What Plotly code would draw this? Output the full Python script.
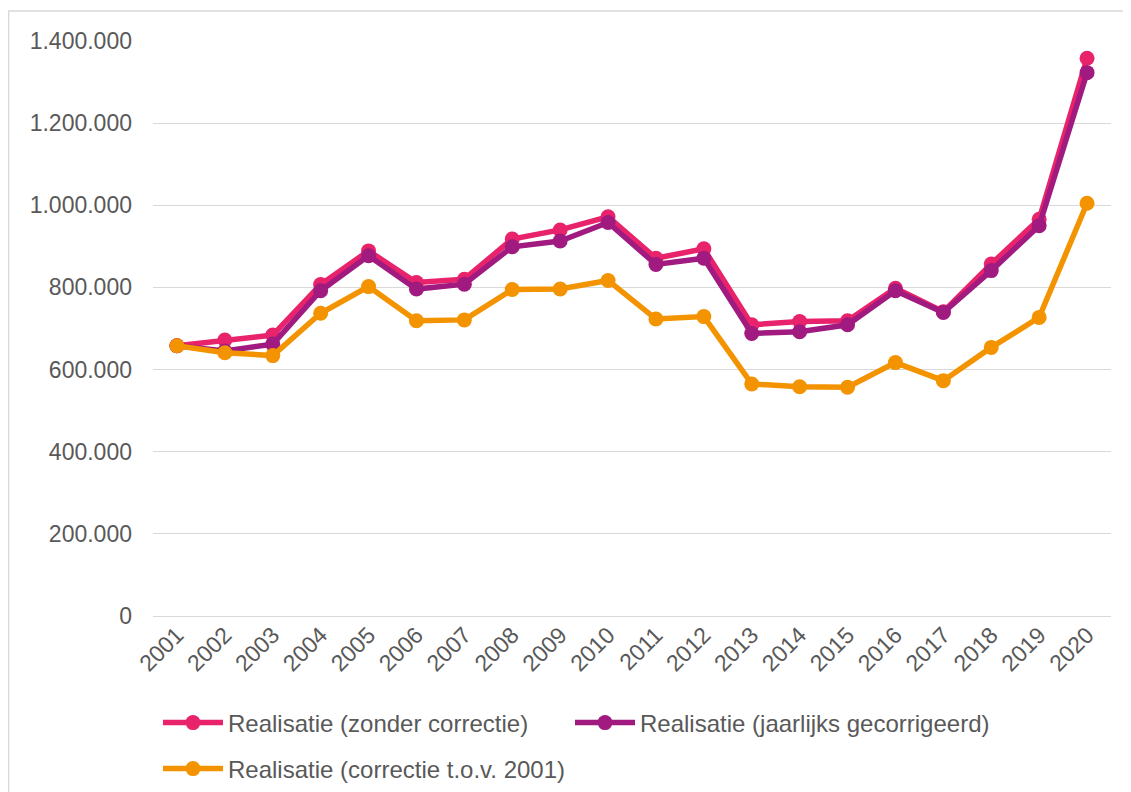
import plotly.graph_objects as go

years = [str(y) for y in range(2001, 2021)]
zonder = [658000, 672000, 684000, 807000, 889000, 812000, 820000, 918000, 940000, 972000,
          871000, 894000, 709000, 717000, 719000, 798000, 741000, 857000, 966000, 1358000]
jaarlijks = [658000, 645000, 662000, 792000, 877000, 796000, 808000, 899000, 913000, 958000,
             856000, 871000, 688000, 692000, 709000, 792000, 739000, 841000, 950000, 1323000]
tov2001 = [658000, 641000, 634000, 737000, 802000, 719000, 721000, 795000, 796000, 817000,
           723000, 729000, 565000, 558000, 557000, 617000, 573000, 654000, 727000, 1005000]

names = ["Realisatie (zonder correctie)", "Realisatie (jaarlijks gecorrigeerd)",
         "Realisatie (correctie t.o.v. 2001)"]
colors = ["#E8236B", "#A01A80", "#F49300"]
series = [zonder, jaarlijks, tov2001]
legends = ["legend", "legend2", "legend3"]

FONT = "Liberation Sans, Arial, sans-serif"
TXT = "#595959"

fig = go.Figure()
for nm, c, s, lg in zip(names, colors, series, legends):
    fig.add_trace(go.Scatter(
        x=years, y=s, name=nm, mode="lines+markers",
        line=dict(color=c, width=5.5),
        marker=dict(color=c, size=15),
        legend=lg,
    ))

# page has an 8px body margin; figure coordinates below are page - 8
W, H = 1123, 784
L, R, T, B = 145, 20, 33, 176
pw, ph = W - L - R, H - T - B

def px_x(p):
    return (p - L) / pw

def px_y(p):
    return (H - B - p) / ph

def cx(p):
    return p / W

def cy(p):
    return 1 - p / H

legend_common = dict(font=dict(family=FONT, size=24, color=TXT), bgcolor="rgba(0,0,0,0)",
                     xref="container", yref="container",
                     xanchor="left", yanchor="middle", itemwidth=60, orientation="h")

fig.update_layout(
    template="none",
    width=W, height=H,
    margin=dict(l=L, r=R, t=T, b=B, autoexpand=False),
    paper_bgcolor="white", plot_bgcolor="white",
    separators=",.",
    font=dict(family=FONT, size=23, color=TXT),
    xaxis=dict(type="category", tickangle=-45, showgrid=False, showline=False,
               ticks="", automargin=False, zeroline=False,
               tickfont=dict(family=FONT, size=23, color=TXT),
               range=[-0.5, 19.5]),
    yaxis=dict(range=[0, 1400000], dtick=200000, tickformat=",d",
               showgrid=True, gridcolor="#D9D9D9", gridwidth=1.3,
               zeroline=True, zerolinecolor="#D9D9D9", zerolinewidth=1.3,
               showline=False, ticks="", ticklabelstandoff=20, automargin=False,
               tickfont=dict(family=FONT, size=23, color=TXT)),
    legend=dict(x=cx(150), y=cy(715), **legend_common),
    legend2=dict(x=cx(562), y=cy(715), **legend_common),
    legend3=dict(x=cx(150), y=cy(761), **legend_common),
    shapes=[dict(type="rect", xref="paper", yref="paper",
                 x0=px_x(0.6), x1=px_x(1300), y0=px_y(900), y1=px_y(3),
                 line=dict(color="#D9D9D9", width=1.5), fillcolor="rgba(0,0,0,0)",
                 layer="below")],
    showlegend=True,
)

fig.write_html("out.html")
